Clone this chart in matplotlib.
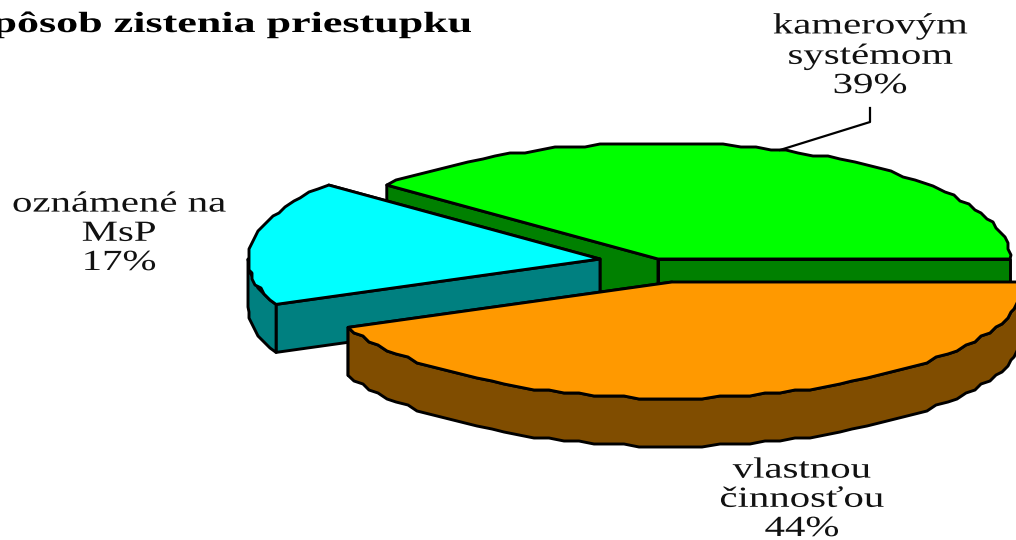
import matplotlib
matplotlib.use('Agg')
import matplotlib.pyplot as plt
import matplotlib.patheffects as pe
from matplotlib.patches import Polygon
from matplotlib.transforms import Affine2D
import numpy as np

title = 'Spôsob zistenia priestupku'
labels = ['kamerovým\nsystémom', 'oznámené na\nMsP', 'vlastnou\nčinnosťou']
shares = [39.0, 17.4, 43.6]
top_colors = ['#00ff00', '#00ffff', '#ff9900']
side_colors = ['#008000', '#008080', '#804d00']

# pie layout in pixels
centers = [(658, 259), (600, 259), (672, 282)]
rx, ry, depth = 352, 116, 48
lw = 2.1


class Stretch(pe.AbstractPathEffect):
    # the reference text is squeezed out sideways, so widen it around x0
    def __init__(self, sx, x0):
        super().__init__()
        self.sx = sx
        self.x0 = x0

    def draw_path(self, renderer, gc, tpath, affine, rgbFace=None):
        t = Affine2D().translate(-self.x0, 0).scale(self.sx, 1).translate(self.x0, 0)
        renderer.draw_path(gc, tpath, affine + t, rgbFace)


def arc(c, a0, a1):
    # rough polygon arc, snapped to a grid like the old bitmap
    n = max(int((a1 - a0) / 2.5), 3)
    t = np.radians(np.linspace(a0, a1, n))
    x = c[0] + rx * np.cos(t)
    y = c[1] - ry * np.sin(t)
    x[1:-1] = np.round(x[1:-1] / 3) * 3
    y[1:-1] = np.round(y[1:-1] / 3) * 3
    return np.column_stack([x, y])


def down(p):
    return np.asarray(p) + [0, depth]


fig = plt.figure(figsize=(10.16, 5.4), dpi=100)
ax = fig.add_axes([0, 0, 1, 1])
ax.set_xlim(0, 1016)
ax.set_ylim(540, 0)
ax.axis('off')

edges = np.cumsum([0] + shares) / sum(shares) * 360
for i in range(len(shares)):
    c = centers[i]
    a0, a1 = edges[i], edges[i + 1]
    pts = arc(c, a0, a1)
    kw = dict(edgecolor='black', linewidth=lw, joinstyle='round', zorder=i + 1)
    # cut walls, then the front rim, then the top over everything
    for e in (pts[0], pts[-1]):
        ax.add_patch(Polygon([c, e, down(e), down(c)], facecolor=side_colors[i], **kw))
    if a1 > 180:
        rim = arc(c, max(a0, 180), a1)
        ax.add_patch(Polygon(np.vstack([rim, down(rim)[::-1]]), facecolor=side_colors[i], **kw))
    ax.add_patch(Polygon(np.vstack([[c], pts]), facecolor=top_colors[i], **kw))

# leader line of the green slice
ax.plot([780, 870, 870], [150, 122, 108], color='black', lw=1.6, zorder=5)

font = 'Liberation Serif'
ax.text(-32, 32, title, family=font, weight='bold', fontsize=21, color='black',
        va='baseline', ha='left', clip_on=False,
        path_effects=[Stretch(1.51, -32)], zorder=6)

label_pos = [(870, 93), (119, 270), (802, 536)]
for lab, s, (x, y) in zip(labels, shares, label_pos):
    ax.text(x, y, f'{lab}\n{s:.0f}%', family=font, fontsize=21, color='#111111',
            ha='center', va='baseline', multialignment='center', linespacing=1.16,
            path_effects=[Stretch(1.40, x)], zorder=6)

fig.savefig('out.png', dpi=100)
